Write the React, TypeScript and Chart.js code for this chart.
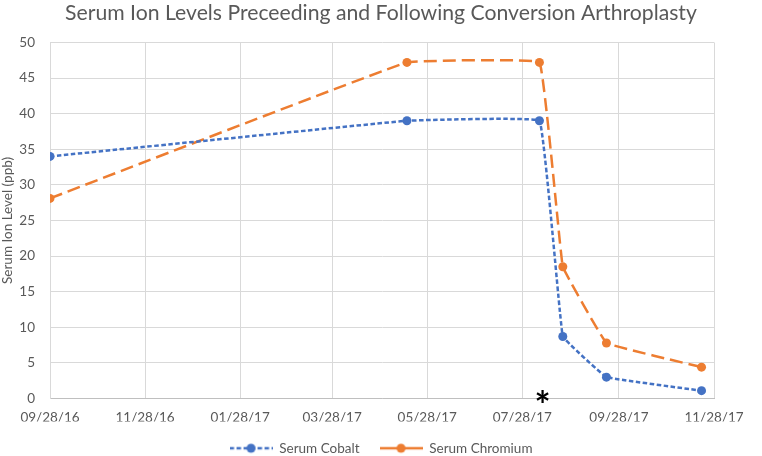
import React, { useEffect, useRef } from "react";
import { Chart, registerables } from "chart.js";

Chart.register(...registerables);

const TITLE = "Serum Ion Levels Preceeding and Following Conversion Arthroplasty";
const Y_TITLE = "Serum Ion Level (ppb)";
const SERIES_NAMES = ["Serum Cobalt", "Serum Chromium"];
const sampleDates = ["09/28/16", "05/15/17", "08/08/17", "08/23/17", "09/20/17", "11/20/17"];
const cobalt = [34.0, 39.0, 39.0, 8.7, 3.0, 1.1];
const chromium = [28.1, 47.2, 47.2, 18.5, 7.8, 4.4];
const xTickLabels = ["09/28/16", "11/28/16", "01/28/17", "03/28/17", "05/28/17", "07/28/17", "09/28/17", "11/28/17"];
const yMin = 0;
const yMax = 50;
const yStep = 5;
const conversionDate = "08/10/17";
const conversionMark = "*";

const FONT = "Lato, 'Open Sans', sans-serif";
const TEXT = "#595959";
const BLUE = "#4472C4";
const ORANGE = "#ED7D31";

function toDay(s: string): number {
  const [m, d, y] = s.split("/").map(Number);
  return Date.UTC(2000 + y, m - 1, d) / 86400000;
}

function legendSymbol(color: string, dash: number[]) {
  const c = document.createElement("canvas");
  c.width = 43;
  c.height = 12;
  const g = c.getContext("2d")!;
  g.strokeStyle = color;
  g.lineWidth = 2.5;
  g.setLineDash(dash);
  g.beginPath();
  g.moveTo(0, 6);
  g.lineTo(43, 6);
  g.stroke();
  g.fillStyle = color;
  g.beginPath();
  g.arc(21.5, 6, 4.5, 0, Math.PI * 2);
  g.fill();
  return c;
}

export default function App() {
  const ref = useRef<HTMLCanvasElement>(null);

  useEffect(() => {
    const xTickDays = xTickLabels.map(toDay);
    const labelByDay: Record<number, string> = {};
    xTickDays.forEach((v, i) => (labelByDay[v] = xTickLabels[i]));
    const days = sampleDates.map(toDay);

    const markPlugin = {
      id: "conversionMark",
      afterDatasetsDraw(chart: any) {
        const { ctx, scales } = chart;
        const x = scales.x.getPixelForValue(toDay(conversionDate));
        const y = scales.y.getPixelForValue(0);
        ctx.save();
        ctx.fillStyle = "#000";
        ctx.font = `bold 38px ${FONT}`;
        ctx.textAlign = "center";
        ctx.textBaseline = "alphabetic";
        ctx.fillText(conversionMark, x, y + 20);
        ctx.restore();
      },
    };

    const symbols = [legendSymbol(BLUE, [4.5, 2.5]), legendSymbol(ORANGE, [])];

    const chart = new Chart(ref.current!, {
      type: "line",
      data: {
        datasets: [
          {
            label: SERIES_NAMES[0],
            data: days.map((d, i) => ({ x: d, y: cobalt[i] })),
            borderColor: BLUE,
            backgroundColor: BLUE,
            borderWidth: 2.5,
            borderDash: [4.5, 2.5],
            pointRadius: 4.5,
            pointBackgroundColor: BLUE,
            pointBorderWidth: 0,
            tension: 0.05,
          },
          {
            label: SERIES_NAMES[1],
            data: days.map((d, i) => ({ x: d, y: chromium[i] })),
            borderColor: ORANGE,
            backgroundColor: ORANGE,
            borderWidth: 2.5,
            borderDash: [13, 6],
            pointRadius: 4.5,
            pointBackgroundColor: ORANGE,
            pointBorderWidth: 0,
            tension: 0.05,
          },
        ],
      },
      options: {
        responsive: false,
        animation: false,
        layout: { padding: { left: 0, right: 0, top: 0, bottom: -9 } },
        plugins: {
          title: {
            display: true,
            text: TITLE,
            color: TEXT,
            font: { family: FONT, size: 21.2, weight: "normal" },
            padding: { top: 0, bottom: 17 },
          },
          legend: {
            position: "bottom",
            labels: {
              color: TEXT,
              font: { family: FONT, size: 13.5 },
              usePointStyle: true,
              pointStyleWidth: 43,
              padding: 20,
              generateLabels: (ch: any) =>
                Chart.defaults.plugins.legend.labels
                  .generateLabels(ch)
                  .map((it: any, i: number) => ({ ...it, pointStyle: symbols[i] })),
            },
          },
          tooltip: { enabled: false },
        },
        scales: {
          x: {
            type: "linear",
            min: xTickDays[0],
            max: xTickDays[xTickDays.length - 1],
            afterBuildTicks: (s: any) => {
              s.ticks = xTickDays.map((v) => ({ value: v }));
            },
            ticks: {
              color: TEXT,
              font: { family: FONT, size: 13.5 },
              padding: 11,
              maxRotation: 0,
              autoSkip: false,
              callback: (v: any) => labelByDay[v] ?? "",
            },
            grid: { color: "#d9d9d9", drawTicks: false },
            border: { color: "#bfbfbf" },
            afterFit: (s: any) => {
              s.height = 23;
            },
          },
          y: {
            min: yMin,
            max: yMax,
            ticks: {
              stepSize: yStep,
              color: TEXT,
              font: { family: FONT, size: 13.5 },
              padding: 15,
            },
            grid: { color: "#d9d9d9", drawTicks: false },
            border: { color: "#d9d9d9" },
            title: {
              display: true,
              text: Y_TITLE,
              color: TEXT,
              font: { family: FONT, size: 13.5 },
              padding: { top: 0, bottom: 0 },
            },
            afterFit: (s: any) => {
              s.width = 50;
            },
          },
          yPad: {
            position: "right",
            display: true,
            min: yMin,
            max: yMax,
            grid: { display: false, drawTicks: false },
            border: { display: false },
            ticks: { display: false },
            afterFit: (s: any) => {
              s.width = 48;
            },
          },
        },
      },
      plugins: [markPlugin],
    });
    return () => chart.destroy();
  }, []);

  return (
    <div style={{ position: "absolute", left: 0, top: 0, width: 762, height: 456, background: "#fff" }}>
      <canvas ref={ref} width={762} height={456} />
    </div>
  );
}
